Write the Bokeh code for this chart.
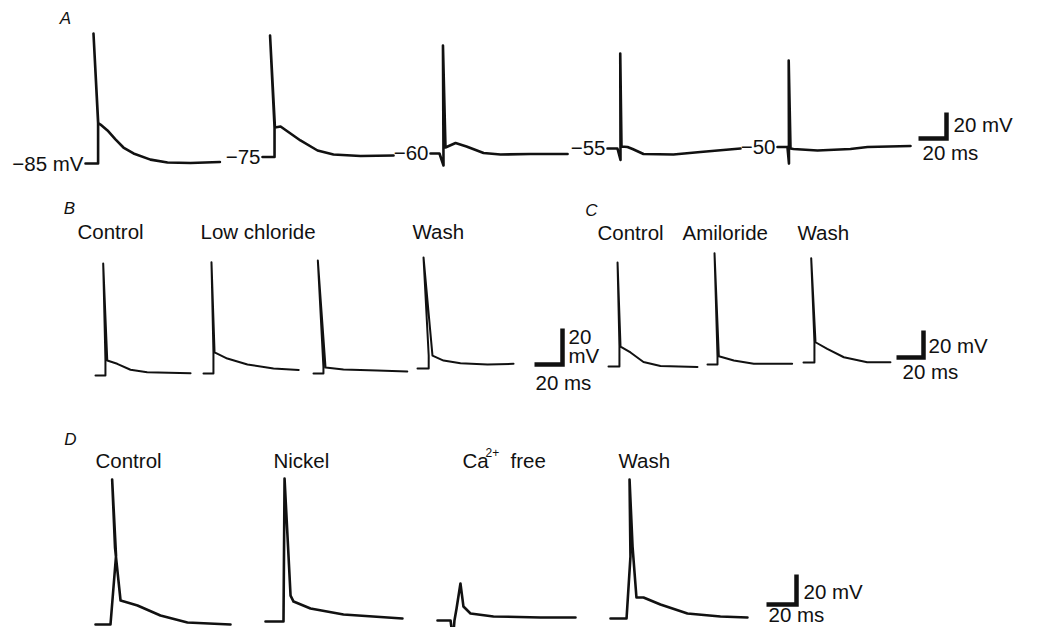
from bokeh.plotting import figure
from bokeh.models import Range1d
from bokeh.core.properties import value
from bokeh.embed import file_html
from bokeh.resources import INLINE

# ---------------- DATA: time (ms) and membrane potential (mV) ----------------
# Panel A: action potentials at different holding potentials (absolute mV)
a_rest_labels = ["\u221285 mV", "\u221275", "\u221260", "\u221255", "\u221250"]
a1_t = [0, 9, 9, 5.7, 9.1, 10.7, 15.7, 21.4, 27.1, 34.3, 46.4, 58.6, 75, 96]
a1_v = [-85, -85, -54, 15, -54, -55, -59.6, -66.5, -72.7, -77.3, -82, -84.2, -84.6, -83.8]
a2_t = [0, 8.6, 8.6, 5.4, 8.9, 12.9, 20, 27.1, 39.3, 50.7, 70, 93.6]
a2_v = [-75, -75, -52.3, 18.5, -52.3, -51.5, -56.9, -62.3, -70, -73.1, -74.2, -73.8]
a3_t = [0, 6.4, 9.3, 8.9, 10.7, 17.9, 25.7, 37.9, 50, 71.4, 97.9]
a3_v = [-60, -60, -69.2, 23, -55.4, -51.9, -54.6, -59.6, -60.8, -60.4, -60.4]
a4_t = [0, 7.1, 9.3, 9.1, 10, 14.3, 17.9, 25.7, 47.1, 66.4, 95]
a4_v = [-55, -55, -63.8, 18.1, -53.5, -53.8, -55.4, -59.2, -59.6, -57.7, -55]
a5_t = [0, 7.1, 8.2, 8, 9.3, 11.4, 28.6, 52.1, 64.3, 95]
a5_v = [-50, -50, -62.7, 16.5, -51.2, -51.5, -52.7, -51.5, -50, -49.2]

# Panel B: Control / Low chloride (x2) / Wash (mV from rest)
b_labels = ["Control", "Low chloride", "Wash"]
b1_t = [0, 7.1, 7.1, 5.5, 8.4, 15.5, 25, 36.9, 67.9]
b1_v = [0, 0, 8.3, 62.2, 8.3, 6.5, 3.2, 1.8, 1.3]
b2_t = [0, 7.1, 7.1, 5.7, 7.9, 17, 31.4, 50, 68]
b2_v = [0, 0, 11.7, 61.8, 11.7, 8.3, 5, 2.8, 2]
b3_t = [0, 7.1, 7.1, 3.1, 8.6, 21.4, 45.5, 67]
b3_v = [0, 0, 3.3, 62.8, 3.3, 2.2, 1.7, 1.1]
b4_t = [0, 8, 8, 4.3, 10.7, 18.6, 30.7, 50, 68.6]
b4_v = [0, 0, 7.2, 61.7, 7.2, 4.4, 2.9, 2.2, 2.6]

# Panel C: Control / Amiloride / Wash (mV from rest)
c_labels = ["Control", "Amiloride", "Wash"]
c1_t = [0, 8.1, 8.1, 6.7, 8.9, 16.3, 25.9, 38.5, 65.9]
c1_v = [0, 0, 14.8, 77, 14.8, 10.4, 3.3, 0.4, -0.4]
c2_t = [0, 7.4, 7.4, 5.2, 8.4, 19.5, 34.3, 62.7]
c2_v = [0, 0, 6.1, 82.4, 6.1, 3, 0.5, 0.5]
c3_t = [0, 8.1, 8.1, 5.7, 8.9, 17.6, 29.9, 47.2, 64.4]
c3_v = [0, 0, 15, 77.3, 15, 10.1, 3.9, 0.2, 0.2]

# Panel D: Control / Nickel / Ca2+ free / Wash (mV from rest)
d_labels = ["Control", "Nickel", "Ca", "Wash"]
d1_t = [0, 10, 13.7, 11.1, 13, 16.7, 21.3, 28, 43.3, 61.3, 90]
d1_v = [0, 0, 46, 96.7, 51.3, 16, 14.7, 12.7, 6, 1.3, 0]
d2_t = [0, 12, 12.7, 16.7, 18.7, 30, 52, 91.3]
d2_v = [0, 0, 95.3, 17.3, 13.3, 8.7, 4.7, 2]
d3_t = [0, 8.7, 10.3, 11.3, 12.7, 15.3, 17.3, 22, 37.3, 68.7, 92]
d3_v = [0, 0, -12.7, 0, 8, 24.7, 9.3, 4.7, 2.7, 2, 2]
d4_t = [0, 10.7, 13.3, 12.7, 14.7, 17.3, 22, 33.3, 51.3, 73.3, 91.3]
d4_v = [0, 0, 41.3, 92.7, 48, 14, 14, 9.3, 3.3, 1.3, 0.7]

# calibration bars
bar_mv = 20
bar_ms = 20

# ---------------- LAYOUT (canvas units = picture pixels) ----------------
W, H = 1023, 627
p = figure(width=W, height=H, output_backend="svg", toolbar_location=None,
           x_range=Range1d(0, W), y_range=Range1d(H, 0),
           x_axis_type=None, y_axis_type=None, min_border=0,
           outline_line_color=None, background_fill_color="white",
           border_fill_color="white")
p.grid.visible = False

FONT = value("Liberation Sans")
INK = "#111111"

def place(ts, vs, x0, yb, sx, sy):
    v0 = vs[0]
    return [x0 + t * sx for t in ts], [yb - (v - v0) * sy for v in vs]

def trace(ts, vs, x0, yb, sx, sy, lw=2.0):
    xs, ys = place(ts, vs, x0, yb, sx, sy)
    p.line(xs, ys, line_color=INK, line_width=lw, line_join="round", line_cap="round")

def calib(cx, cy, sx, sy):
    xs = [cx - bar_ms * sx, cx, cx]
    ys = [cy, cy, cy - bar_mv * sy]
    p.line(xs, ys, line_color=INK, line_width=4.5, line_join="miter", line_cap="butt")

def label(x, y, txt, size="20.5px", align="left", style="normal"):
    p.text([x], [y], text=[txt], text_font=FONT, text_font_size=size,
           text_align=align, text_baseline="middle", text_color=INK,
           text_font_style=style)

# panel scales (px per ms, px per mV)
SA = (1.4, 1.3)
SB = (1.4, 1.8)
SC = (1.35, 1.35)
SD = (1.5, 1.5)

# Panel A
a_traces = [(a1_t, a1_v), (a2_t, a2_v), (a3_t, a3_v), (a4_t, a4_v), (a5_t, a5_v)]
a_origin = [(85, 163), (262, 156.5), (430, 153), (607, 148), (777, 146.5)]
for (t, v), (x0, yb), lab in zip(a_traces, a_origin, a_rest_labels):
    trace(t, v, x0, yb, *SA, lw=2.6)
    label(x0 - 2, yb - 0.5, lab, align="right")
calib(946, 138, *SA)
label(953, 124, "20 mV")
label(922, 152, "20 ms")
label(65, 18, "A", size="17px", align="center", style="italic")

# Panel B
b_traces = [(b1_t, b1_v), (b2_t, b2_v), (b3_t, b3_v), (b4_t, b4_v)]
b_origin = [(95, 375), (203, 373), (313, 373), (417, 368)]
for (t, v), (x0, yb) in zip(b_traces, b_origin):
    trace(t, v, x0, yb, *SB, lw=2.0)
for x, lab in zip([77, 200, 412], b_labels):
    label(x, 231, lab)
calib(562, 364, *SB)
label(568, 336, "20")
label(568, 355, "mV")
label(535, 382, "20 ms")
label(69, 208, "B", size="17px", align="center", style="italic")

# Panel C
c_traces = [(c1_t, c1_v), (c2_t, c2_v), (c3_t, c3_v)]
c_origin = [(608, 366), (707, 364), (803, 362)]
for (t, v), (x0, yb) in zip(c_traces, c_origin):
    trace(t, v, x0, yb, *SC, lw=2.0)
for x, lab in zip([597, 682, 797], c_labels):
    label(x, 232, lab)
calib(923, 357, *SC)
label(928, 345, "20 mV")
label(902, 371, "20 ms")
label(591, 210, "C", size="17px", align="center", style="italic")

# Panel D
d_traces = [(d1_t, d1_v), (d2_t, d2_v), (d3_t, d3_v), (d4_t, d4_v)]
d_origin = [(95, 624), (265, 621), (437, 620), (610, 618)]
for (t, v), (x0, yb) in zip(d_traces, d_origin):
    trace(t, v, x0, yb, *SD, lw=2.6)
for x, lab in zip([95, 273, 462, 618], d_labels):
    label(x, 460, lab)
label(485, 452, "2+", size="12px")
label(510, 460, "free")
calib(796, 604, *SD)
label(803, 591, "20 mV")
label(768, 614, "20 ms")
label(70, 439, "D", size="17px", align="center", style="italic")

open("out.html", "w").write(file_html(p, INLINE))
